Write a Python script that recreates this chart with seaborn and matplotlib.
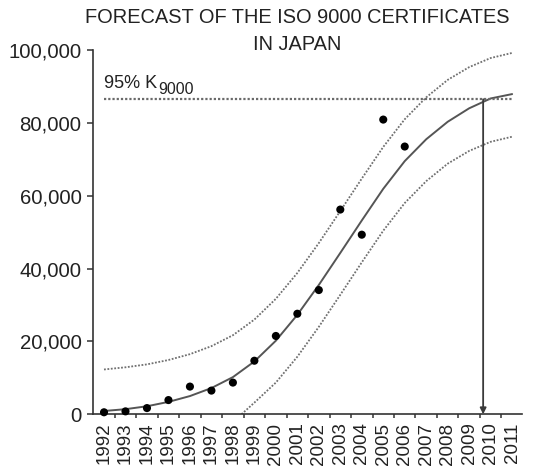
import matplotlib
matplotlib.use("Agg")
import matplotlib.pyplot as plt
import matplotlib.ticker as mticker
import numpy as np
import pandas as pd
import seaborn as sns

# Observed certificates per year
OBS_YEARS = [1992, 1993, 1994, 1995, 1996, 1997, 1998, 1999, 2000,
             2001, 2002, 2003, 2004, 2005, 2006]
OBS_CERTS = [550, 800, 1700, 3900, 7600, 6500, 8700, 14700, 21500,
             27600, 34100, 56200, 49300, 80900, 73500]

# Fitted logistic curve and its confidence band, by year
CURVE_YEARS = list(range(1992, 2012))
FIT = [900, 1400, 2200, 3400, 5000, 7200, 10200, 14500, 20200, 27300,
       35500, 44300, 53200, 61900, 69500, 75500, 80300, 84000, 86700, 87900]
UPPER = [12300, 12900, 13700, 14900, 16500, 18700, 21700, 26000, 31700, 38800,
         47000, 55800, 64700, 73400, 81000, 87000, 91800, 95300, 97800, 99200]
LOWER_YEARS = [1998.4, 1999, 2000, 2001, 2002, 2003, 2004, 2005,
               2006, 2007, 2008, 2009, 2010, 2011]
LOWER = [0, 3200, 8700, 15800, 24000, 32800, 41700, 50400,
         58000, 64000, 68800, 72300, 74800, 76200]

# 95% of the saturation level and the year it is reached
K95 = 86500
K95_YEAR = 2009.65

TITLE_LINES = ["FORECAST OF THE ISO 9000 CERTIFICATES", "IN JAPAN"]
Y_TICKS = [0, 20000, 40000, 60000, 80000, 100000]

sns.set_theme(style="ticks")
plt.rcParams["font.family"] = ["Liberation Sans", "DejaVu Sans"]
ink = "#222222"

fig = plt.figure(figsize=(5.33, 4.74), dpi=100)
ax = fig.add_axes([0.175, 0.126, 0.804, 0.7685])

obs = pd.DataFrame({"year": OBS_YEARS, "certs": OBS_CERTS})
curve = pd.DataFrame({"year": CURVE_YEARS, "fit": FIT, "upper": UPPER})
low = pd.DataFrame({"year": LOWER_YEARS, "lower": LOWER})

dot = (0, (1.0, 0.9))
sns.lineplot(data=curve, x="year", y="upper", ax=ax, color="#707070",
             linewidth=1.3, linestyle=dot)
sns.lineplot(data=low, x="year", y="lower", ax=ax, color="#707070",
             linewidth=1.3, linestyle=dot)
sns.lineplot(data=curve, x="year", y="fit", ax=ax, color="#555555",
             linewidth=1.4)
ax.hlines(K95, CURVE_YEARS[0], CURVE_YEARS[-1], colors="#6a6a6a",
          linewidth=1.6, linestyles=[dot])
sns.scatterplot(data=obs, x="year", y="certs", ax=ax, color="black",
                s=34, edgecolor="none", zorder=5, clip_on=False)

ax.annotate("", xy=(K95_YEAR, 0), xytext=(K95_YEAR, K95),
            arrowprops=dict(arrowstyle="-|>", color="#3a3a3a", lw=1.3,
                            mutation_scale=9, shrinkA=0, shrinkB=0))

label = ax.text(CURVE_YEARS[0], 89600, "95% K", fontsize=13, color=ink,
                ha="left", va="baseline")
ax.annotate("9000", xy=(1, 0), xycoords=label, xytext=(0.5, -1.2),
            textcoords="offset points", fontsize=11.5, color=ink,
            ha="left", va="baseline")

ax.set_xlim(1991.5, 2011.45)
ax.set_ylim(0, 100000)
ax.set_xticks(CURVE_YEARS)
ax.set_xticklabels([str(y) for y in CURVE_YEARS], rotation=90)
ax.set_xticks([y + 0.5 for y in CURVE_YEARS[:-1]], minor=True)
ax.set_yticks(Y_TICKS)
ax.yaxis.set_major_formatter(mticker.StrMethodFormatter("{x:,.0f}"))
ax.tick_params(axis="x", which="major", length=0, pad=6, labelsize=13.5,
               colors=ink)
ax.tick_params(axis="x", which="minor", length=3, width=1.1,
               direction="out", color="#333333")
ax.tick_params(axis="y", length=4.5, width=1.1, pad=4, labelsize=14.7,
               colors=ink)
ax.tick_params(axis="y", color="#333333")
ax.set_xlabel("")
ax.set_ylabel("")
for side in ("top", "right"):
    ax.spines[side].set_visible(False)
for side in ("left", "bottom"):
    ax.spines[side].set_color("#333333")
    ax.spines[side].set_linewidth(1.2)

fig.text(0.558, 1 - 23 / 474, TITLE_LINES[0], ha="center", va="baseline",
         fontsize=14.4, color=ink)
fig.text(0.558, 1 - 49.5 / 474, TITLE_LINES[1], ha="center", va="baseline",
         fontsize=14.4, color=ink)

fig.savefig("out.png", dpi=100, facecolor="white")
